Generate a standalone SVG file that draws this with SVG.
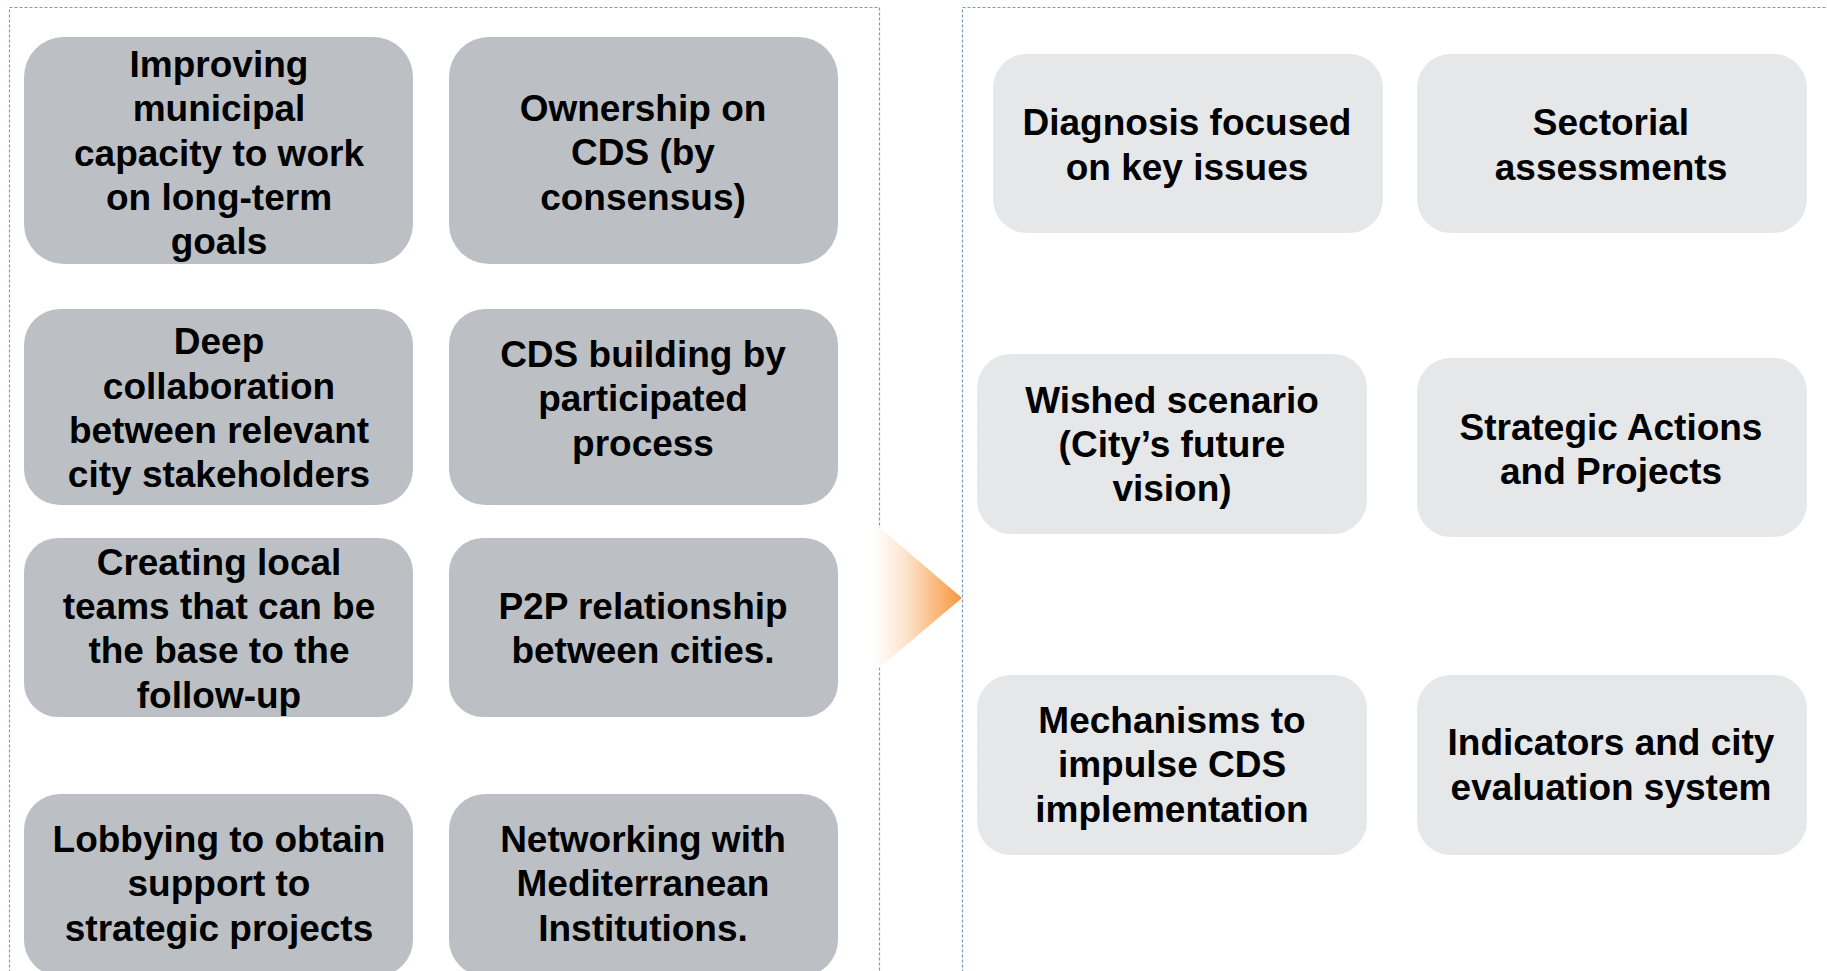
<svg xmlns="http://www.w3.org/2000/svg" width="1827" height="971" viewBox="0 0 1827 971">
<style>
.panel{fill:none;stroke:#7C98CF;stroke-width:1.2;stroke-dasharray:3 2}
.dark{fill:#BCC0C4}
.light{fill:#E6E7E8}
text{font-family:"Liberation Sans",Arial,sans-serif;font-weight:bold;font-size:37px;fill:#000;text-anchor:middle}
</style>
<defs>
<linearGradient id="arrowGrad" x1="0" y1="0" x2="1" y2="0">
<stop offset="0" stop-color="#FFFFFF"/>
<stop offset="0.35" stop-color="#FDE5D2"/>
<stop offset="1" stop-color="#F7963A"/>
</linearGradient>
</defs>
<rect width="1827" height="971" fill="#FFFFFF"/>
<g id="panels">
<rect class="panel" x="9.5" y="7.5" width="870" height="1000"/>
<rect class="panel" x="962.5" y="7.5" width="900" height="1000"/>
</g>
<g id="connectors">
<polygon points="873,522 962,598 873,673" fill="url(#arrowGrad)"/>
</g>
<g id="n1"><rect class="dark" x="24" y="37" width="389" height="227" rx="40"/>
<text x="219"><tspan y="77">Improving</tspan><tspan x="219" y="121">municipal</tspan><tspan x="219" y="166">capacity to work</tspan><tspan x="219" y="210">on long-term</tspan><tspan x="219" y="254">goals</tspan></text></g>
<g id="n2"><rect class="dark" x="449" y="37" width="389" height="227" rx="40"/>
<text x="643"><tspan y="121">Ownership on</tspan><tspan x="643" y="165">CDS (by</tspan><tspan x="643" y="210">consensus)</tspan></text></g>
<g id="n3"><rect class="dark" x="24" y="309" width="389" height="196" rx="36"/>
<text x="219"><tspan y="354">Deep</tspan><tspan x="219" y="399">collaboration</tspan><tspan x="219" y="443">between relevant</tspan><tspan x="219" y="487">city stakeholders</tspan></text></g>
<g id="n4"><rect class="dark" x="449" y="309" width="389" height="196" rx="36"/>
<text x="643"><tspan y="367">CDS building by</tspan><tspan x="643" y="411">participated</tspan><tspan x="643" y="456">process</tspan></text></g>
<g id="n5"><rect class="dark" x="24" y="538" width="389" height="179" rx="34"/>
<text x="219"><tspan y="575">Creating local</tspan><tspan x="219" y="619">teams that can be</tspan><tspan x="219" y="663">the base to the</tspan><tspan x="219" y="708">follow-up</tspan></text></g>
<g id="n6"><rect class="dark" x="449" y="538" width="389" height="179" rx="34"/>
<text x="643"><tspan y="619">P2P relationship</tspan><tspan x="643" y="663">between cities.</tspan></text></g>
<g id="n7"><rect class="dark" x="24" y="794" width="389" height="182" rx="36"/>
<text x="219"><tspan y="852">Lobbying to obtain</tspan><tspan x="219" y="896">support to</tspan><tspan x="219" y="941">strategic projects</tspan></text></g>
<g id="n8"><rect class="dark" x="449" y="794" width="389" height="182" rx="36"/>
<text x="643"><tspan y="852">Networking with</tspan><tspan x="643" y="896">Mediterranean</tspan><tspan x="643" y="941">Institutions.</tspan></text></g>
<g id="r1"><rect class="light" x="993" y="54" width="390" height="179" rx="34"/>
<text x="1187"><tspan y="135">Diagnosis focused</tspan><tspan x="1187" y="180">on key issues</tspan></text></g>
<g id="r2"><rect class="light" x="1417" y="54" width="390" height="179" rx="34"/>
<text x="1611"><tspan y="135">Sectorial</tspan><tspan x="1611" y="180">assessments</tspan></text></g>
<g id="r3"><rect class="light" x="977" y="354" width="390" height="180" rx="34"/>
<text x="1172"><tspan y="413">Wished scenario</tspan><tspan x="1172" y="457">(City’s future</tspan><tspan x="1172" y="501">vision)</tspan></text></g>
<g id="r4"><rect class="light" x="1417" y="358" width="390" height="179" rx="34"/>
<text x="1611"><tspan y="440">Strategic Actions</tspan><tspan x="1611" y="484">and Projects</tspan></text></g>
<g id="r5"><rect class="light" x="977" y="675" width="390" height="180" rx="34"/>
<text x="1172"><tspan y="733">Mechanisms to</tspan><tspan x="1172" y="777">impulse CDS</tspan><tspan x="1172" y="822">implementation</tspan></text></g>
<g id="r6"><rect class="light" x="1417" y="675" width="390" height="180" rx="34"/>
<text x="1611"><tspan y="755">Indicators and city</tspan><tspan x="1611" y="800">evaluation system</tspan></text></g>
</svg>
